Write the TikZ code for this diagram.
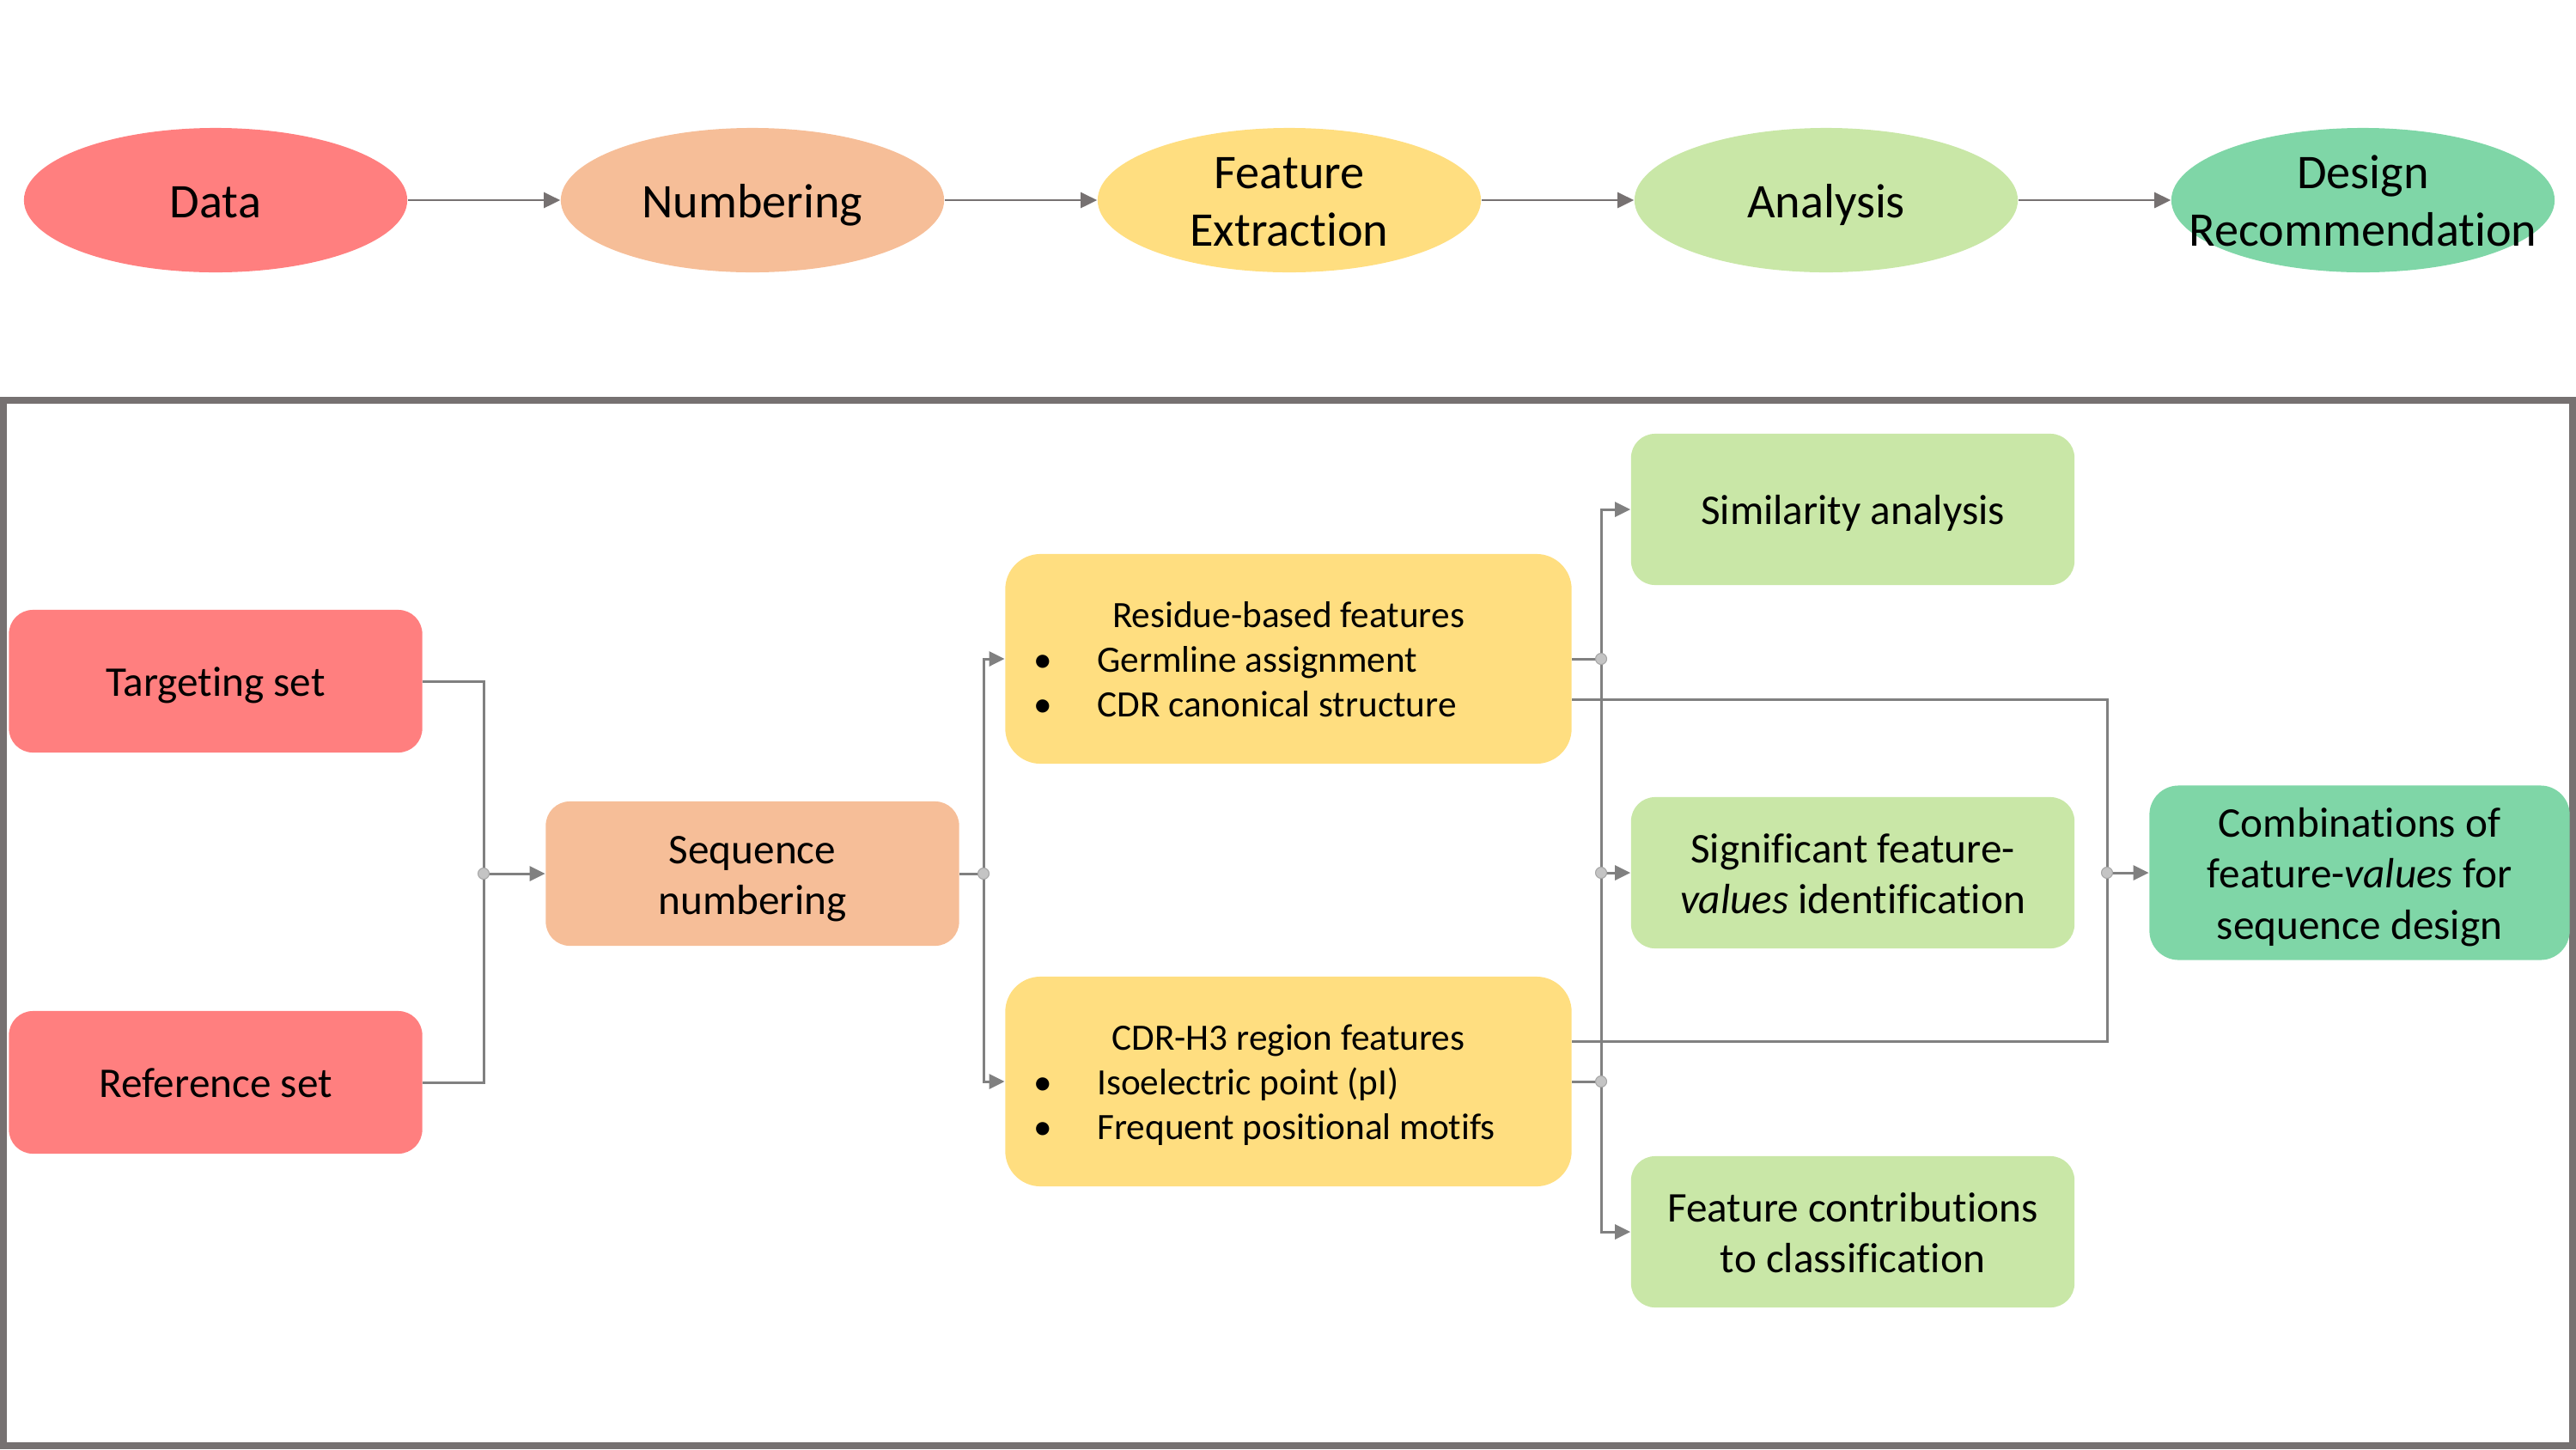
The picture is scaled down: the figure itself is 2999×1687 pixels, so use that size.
\documentclass[tikz,border=0pt]{standalone}
\usepackage{fontspec}
\setmainfont{Carlito}[Ligatures=NoCommon]
\usetikzlibrary{shapes.geometric,arrows.meta}
\definecolor{cred}{HTML}{FF7F7F}
\definecolor{corange}{HTML}{F6BE98}
\definecolor{cyellow}{HTML}{FFDE80}
\definecolor{clgreen}{HTML}{C9E7A7}
\definecolor{cteal}{HTML}{7FD6A7}
\definecolor{cframe}{HTML}{767171}
\definecolor{cline}{HTML}{808080}
\definecolor{cdot}{HTML}{C4C4C4}
\definecolor{cdotb}{HTML}{A6A6A6}
\newcommand{\mlines}[1]{\begin{tabular}[t]{@{}c@{}}#1\end{tabular}}
\newcommand{\bitem}[1]{\hspace*{0.33cm}\makebox[0.74cm][l]{\textbullet}#1}
\newcommand{\ylist}[3]{\begin{tabular}[t]{@{}l@{}}\makebox[6.59cm]{#1}\\ \bitem{#2}\\ \bitem{#3}\end{tabular}}
\tikzset{
  ell/.style={ellipse, minimum width=4.46cm, minimum height=1.68cm, inner sep=0pt,
    font=\fontsize{16}{19}\selectfont, text height=11.4pt, text depth=0pt},
  ell2/.style={ell, text depth=19pt},
  rbox/.style={rectangle, rounded corners=0.28cm, inner sep=0pt,
    font=\fontsize{14}{17}\selectfont, text height=10.2pt, text depth=0pt},
  rbox2/.style={rbox, text depth=17pt},
  rbox3/.style={rbox, text depth=34pt},
  redbox/.style={rbox, fill=cred, minimum width=4.81cm, minimum height=1.66cm},
  ybox/.style={rectangle, rounded corners=0.41cm, inner sep=0pt, fill=cyellow,
    minimum width=6.59cm, minimum height=2.44cm,
    font=\fontsize{12.3}{14.8}\selectfont, text height=8.8pt, text depth=29.6pt},
  gbox/.style={fill=clgreen, minimum width=5.16cm, minimum height=1.76cm},
  topconn/.style={draw=cframe, line width=0.8pt, -{Triangle[length=0.19cm,width=0.18cm]}},
  conn/.style={draw=cline, line width=0.85pt},
  arr/.style={conn, -{Triangle[length=0.18cm,width=0.17cm]}},
  jdot/.style={circle, fill=cdot, draw=cdotb, line width=0.3pt, minimum size=0.13cm, inner sep=0pt},
  framebox/.style={draw=cframe, line width=2.3pt}
}
\begin{document}
\begin{tikzpicture}[x=0.01cm, y=-0.01cm]
\useasboundingbox (0,0) rectangle (2999,1687);
% top row
\node[ell, fill=cred] (data) at (251,233) {\makebox[0pt]{Data}};
\node[ell, fill=corange] (numb) at (876,233) {\makebox[0pt]{Numbering}};
\node[ell2, fill=cyellow] (fext) at (1501,233) {\makebox[0pt]{\mlines{Feature\\Extraction}}};
\node[ell, fill=clgreen] (anal) at (2126,233) {\makebox[0pt]{Analysis}};
\node[ell2, fill=cteal] (desr) at (2751,233) {\makebox[0pt]{\mlines{Design\\Recommendation}}};
\draw[topconn] (data.east) -- (numb.west);
\draw[topconn] (numb.east) -- (fext.west);
\draw[topconn] (fext.east) -- (anal.west);
\draw[topconn] (anal.east) -- (desr.west);
% frame
\draw[framebox] (4,466) rectangle (2995,1683);
% bottom nodes
\node[redbox] (tset) at (251,793) {Targeting set};
\node[redbox] (rset) at (251,1260) {Reference set};
\node[rbox2, fill=corange, minimum width=4.81cm, minimum height=1.68cm] (seq) at (876,1017) {\mlines{Sequence\\numbering}};
\node[ybox] (fy1) at (1500,767) {\ylist{Residue-based features}{Germline assignment}{CDR canonical structure}};
\node[ybox] (fy2) at (1500,1259) {\ylist{CDR-H3 region features}{Isoelectric point (pI)}{Frequent positional motifs}};
\node[rbox, gbox] (sim) at (2157,593) {Similarity analysis};
\node[rbox2, gbox] (sig) at (2157,1016) {\mlines{Significant feature-\\\textit{values} identification}};
\node[rbox2, gbox] (con) at (2157,1434) {\mlines{Feature contributions\\to classification}};
\node[rbox3, fill=cteal, rounded corners=0.34cm, minimum width=4.89cm, minimum height=2.03cm] (comb) at (2747,1016) {\mlines{Combinations of\\feature-\textit{values} for\\sequence design}};
% junction coordinates
\coordinate (j1) at (563,1017);
\coordinate (j2) at (1145,1017);
\coordinate (j3) at (1864,767);
\coordinate (j4) at (1864,1016);
\coordinate (j5) at (1864,1259);
\coordinate (j6) at (2453,1016);
\coordinate (b1) at (1830,814);
\coordinate (b2) at (1830,1212);
% connectors
\draw[conn] (tset.east) -| (j1);
\draw[conn] (rset.east) -| (j1);
\draw[arr] (j1) -- (seq.west);
\draw[conn] (seq.east) -- (j2);
\draw[arr] (j2) |- (fy1.west);
\draw[arr] (j2) |- (fy2.west);
\draw[conn] (fy1.east) -- (j3);
\draw[conn] (fy2.east) -- (j5);
\draw[arr] (j4) |- (sim.west);
\draw[arr] (j4) -- (sig.west);
\draw[arr] (j4) |- (con.west);
\draw[conn] (b1) -| (j6);
\draw[conn] (b2) -| (j6);
\draw[arr] (j6) -- (comb.west);
% junction dots
\node[jdot] (d1) at (j1) {};
\node[jdot] (d2) at (j2) {};
\node[jdot] (d3) at (j3) {};
\node[jdot] (d4) at (j4) {};
\node[jdot] (d5) at (j5) {};
\node[jdot] (d6) at (j6) {};
\end{tikzpicture}
\end{document}
